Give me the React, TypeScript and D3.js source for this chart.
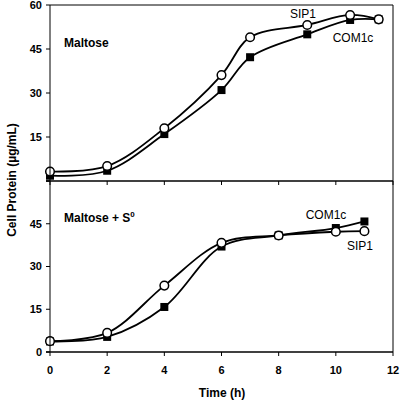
import React from "react";
import * as d3 from "d3";

const timesTop = [0, 2, 4, 6, 7, 9, 10.5, 11.5];
const sip1Top = [3.2, 5.1, 18, 36.1, 49, 53.2, 56.6, 55.1];
const com1cTop = [1.8, 3.5, 16, 31, 42.2, 50, 54.9, 55.1];

const timesBottom = [0, 2, 4, 6, 8, 10, 11];
const sip1Bottom = [3.8, 6.7, 23.3, 38.3, 40.9, 42.2, 42.4];
const com1cBottom = [3.7, 5.3, 15.8, 37, 40.9, 43.5, 45.8];

const xTicks = [0, 2, 4, 6, 8, 10, 12];
const yTicksTop = [15, 30, 45, 60];
const yTicksBottom = [0, 15, 30, 45];

const FONT = "Liberation Sans, Arial, sans-serif";

export default function App() {
  const x = d3.scaleLinear().domain([0, 12]).range([50, 393]);
  const yTop = d3.scaleLinear().domain([0, 60]).range([181, 5]);
  const yBot = d3.scaleLinear().domain([0, 60]).range([352, 181]);

  const mkLine = (ys: d3.ScaleLinear<number, number>) =>
    d3
      .line<[number, number]>()
      .x((d) => x(d[0]))
      .y((d) => ys(d[1]))
      .curve(d3.curveCatmullRom.alpha(0.5));

  const zip = (t: number[], v: number[]) => t.map((tt, i) => [tt, v[i]] as [number, number]);

  const panel = (
    ys: d3.ScaleLinear<number, number>,
    times: number[],
    sip: number[],
    com: number[],
    yTicks: number[],
    key: string
  ) => {
    const line = mkLine(ys);
    return (
      <g key={key}>
        <path d={line(zip(times, com)) || ""} fill="none" stroke="#000" strokeWidth={1.8} />
        <path d={line(zip(times, sip)) || ""} fill="none" stroke="#000" strokeWidth={1.8} />
        {times.map((t, i) => (
          <rect key={"c" + i} x={x(t) - 4} y={ys(com[i]) - 4} width={8} height={8} fill="#000" />
        ))}
        {times.map((t, i) => (
          <circle key={"s" + i} cx={x(t)} cy={ys(sip[i])} r={4.3} fill="#fff" stroke="#000" strokeWidth={1.5} />
        ))}
        {[0, 15, 30, 45, 60].map((v) => (
          <line key={"yt" + v} x1={46} x2={50} y1={ys(v)} y2={ys(v)} stroke="#000" strokeWidth={1} />
        ))}
        {yTicks.map((v) => (
          <text
            key={"yl" + v}
            x={42}
            y={ys(v)}
            dy="0.35em"
            textAnchor="end"
            fontFamily={FONT}
            fontWeight="bold"
            fontSize={11}
          >
            {v}
          </text>
        ))}
        {xTicks.map((v) => (
          <line key={"xt" + v} x1={x(v)} x2={x(v)} y1={ys(0)} y2={ys(0) + 4} stroke="#000" strokeWidth={1} />
        ))}
      </g>
    );
  };

  return (
    <svg
      width={400}
      height={400}
      style={{ position: "absolute", left: 0, top: 0, background: "#fff" }}
    >
      <rect x={0} y={0} width={400} height={400} fill="#fff" />
      {panel(yTop, timesTop, sip1Top, com1cTop, yTicksTop, "top")}
      {panel(yBot, timesBottom, sip1Bottom, com1cBottom, yTicksBottom, "bot")}
      {/* frame */}
      <line x1={50} x2={50} y1={5} y2={352} stroke="#000" strokeWidth={1} />
      <line x1={393} x2={393} y1={5} y2={352} stroke="#000" strokeWidth={1} />
      <line x1={50} x2={393} y1={5} y2={5} stroke="#000" strokeWidth={1} />
      <line x1={46} x2={393} y1={181} y2={181} stroke="#000" strokeWidth={1.5} />
      <line x1={46} x2={393} y1={352} y2={352} stroke="#000" strokeWidth={1.5} />
      {xTicks.map((v) => (
        <text
          key={"xl" + v}
          x={x(v)}
          y={374}
          textAnchor="middle"
          fontFamily={FONT}
          fontWeight="bold"
          fontSize={11}
        >
          {v}
        </text>
      ))}
      <text x={222} y={397} textAnchor="middle" fontFamily={FONT} fontWeight="bold" fontSize={12}>
        Time (h)
      </text>
      <text
        transform="translate(16,180) rotate(-90)"
        textAnchor="middle"
        fontFamily={FONT}
        fontWeight="bold"
        fontSize={12}
      >
        Cell Protein (µg/mL)
      </text>
      <text x={64} y={47} fontFamily={FONT} fontWeight="bold" fontSize={12}>
        Maltose
      </text>
      <text x={64} y={222} fontFamily={FONT} fontWeight="bold" fontSize={12}>
        Maltose + S
        <tspan dy={-5} fontSize={8}>0</tspan>
      </text>
      <text x={303} y={18} textAnchor="middle" fontFamily={FONT} fontSize={12}>
        SIP1
      </text>
      <text x={353} y={42} textAnchor="middle" fontFamily={FONT} fontSize={12}>
        COM1c
      </text>
      <text x={326} y={219} textAnchor="middle" fontFamily={FONT} fontSize={12}>
        COM1c
      </text>
      <text x={360} y={250} textAnchor="middle" fontFamily={FONT} fontSize={12}>
        SIP1
      </text>
    </svg>
  );
}
